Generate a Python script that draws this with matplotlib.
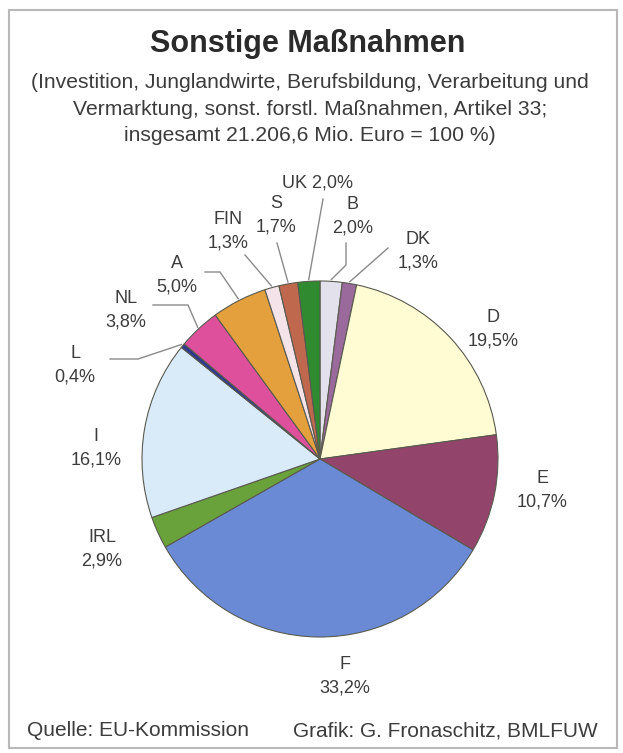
import numpy as np
import matplotlib
matplotlib.use("Agg")
import matplotlib.pyplot as plt
from matplotlib.patches import Rectangle

plt.rcParams['font.family'] = ['Liberation Sans', 'DejaVu Sans']

# ---- data ----
countries = ["B", "DK", "D", "E", "F", "IRL", "I", "L", "NL", "A", "FIN", "S", "UK"]
shares = [2.0, 1.3, 19.5, 10.7, 33.2, 2.9, 16.1, 0.4, 3.8, 5.0, 1.3, 1.7, 2.0]
share_labels = ["2,0%", "1,3%", "19,5%", "10,7%", "33,2%", "2,9%", "16,1%",
                "0,4%", "3,8%", "5,0%", "1,3%", "1,7%", "2,0%"]
colors = ["#E3E1EC", "#9A6A9C", "#FFFBD2", "#93446A", "#6A8AD6", "#69A23A",
          "#D9EAF8", "#2E3A8C", "#DE509C", "#E3A03C", "#F4E3E8", "#C0684E", "#2F8A30"]

title = "Sonstige Maßnahmen"
subtitle = ("(Investition, Junglandwirte, Berufsbildung, Verarbeitung und\n"
            "Vermarktung, sonst. forstl. Maßnahmen, Artikel 33;\n"
            "insgesamt 21.206,6 Mio. Euro = 100 %)")
source = "Quelle: EU-Kommission"
credit = "Grafik: G. Fronaschitz, BMLFUW"

# ---- layout (pixel coordinates, y measured from top) ----
W, H = 623, 753
CX, CY, R = 320, 459, 178
label_pos = {
    "B": (353, 216), "DK": (418, 251), "D": (493, 329), "E": (542, 490),
    "F": (345, 676), "IRL": (102, 549), "I": (96, 448), "L": (75, 365),
    "NL": (126, 310), "A": (177, 275), "FIN": (228, 231), "S": (276, 215),
    "UK": (317, 183),
}
leader = {
    "UK": [(323, 199)],
    "B": [(346, 243), (346, 265)],
    "DK": [(388, 248)],
    "S": [(277, 243)],
    "FIN": [(245, 255)],
    "A": [(205, 272), (220, 272)],
    "NL": [(153, 305), (188, 305)],
    "L": [(110, 359), (138, 359)],
}

fig = plt.figure(figsize=(W / 100, H / 100), dpi=100)
fig.patch.set_facecolor("white")
ax = fig.add_axes([0, 0, 1, 1])

def Y(y):
    return H - y

wedges, _ = ax.pie(shares, colors=colors, startangle=90, counterclock=False,
                   center=(CX, Y(CY)), radius=R,
                   wedgeprops=dict(edgecolor="#5a5a50", linewidth=0.8))
ax.set_xlim(0, W)
ax.set_ylim(0, H)
ax.set_aspect("auto")
ax.axis("off")

# frame
ax.add_patch(Rectangle((9, Y(748)), 608, 738, fill=False, edgecolor="#b8b8b8", lw=1.5))

txt = "#3c3c3c"
ax.text(308, Y(44), title, ha="center", va="center", fontsize=22,
        fontweight="bold", color="#2a2a2a")
ax.text(310, Y(109), subtitle, ha="center", va="center", fontsize=15.2,
        color=txt, linespacing=1.5)

for w, name, lab in zip(wedges, countries, share_labels):
    x, y = label_pos[name]
    s = f"{name} {lab}" if name == "UK" else f"{name}\n{lab}"
    ax.text(x, Y(y), s, ha="center", va="center", fontsize=13, color=txt,
            linespacing=1.5)
    if name in leader:
        mid = np.deg2rad((w.theta1 + w.theta2) / 2)
        ex = w.center[0] + R * 1.01 * np.cos(mid)
        ey = w.center[1] + R * 1.01 * np.sin(mid)
        pts = [(px, Y(py)) for px, py in leader[name]] + [(ex, ey)]
        xs, ys = zip(*pts)
        ax.plot(xs, ys, color="#8a8a8a", lw=1.0)

ax.text(27, Y(731), source, ha="left", va="center", fontsize=15, color=txt)
ax.text(293, Y(731), credit, ha="left", va="center", fontsize=15, color=txt)

fig.savefig("out.png", dpi=100, facecolor="white")
